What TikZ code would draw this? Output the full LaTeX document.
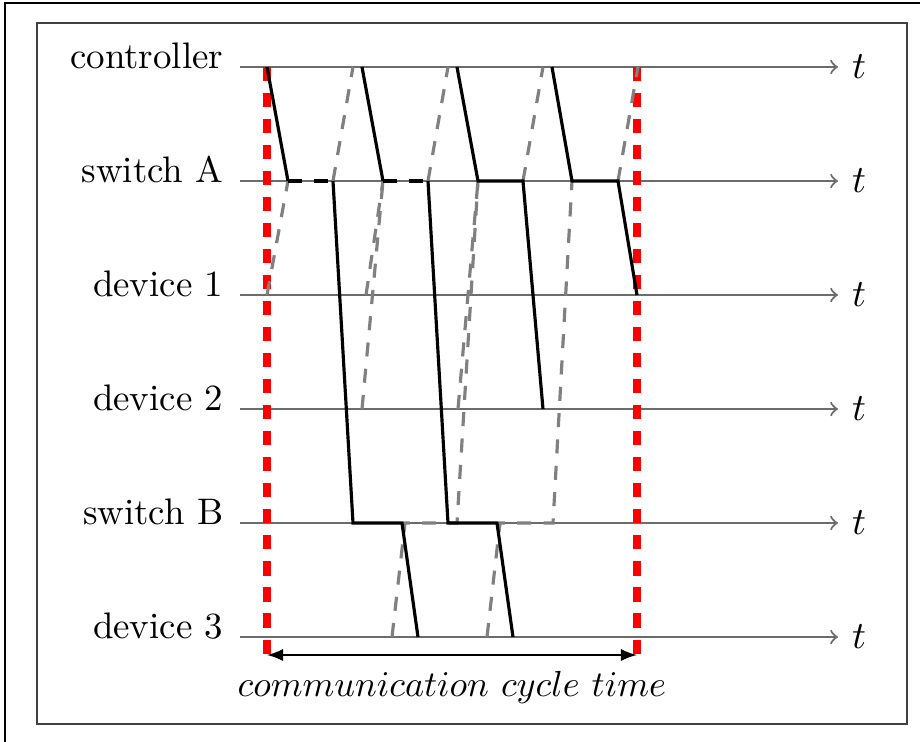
\documentclass[tikz,border=0pt]{standalone}
\usetikzlibrary{positioning}
\usetikzlibrary{arrows}
\usepackage{amssymb}
\usepackage{xcolor}

\begin{document}
\begin{tikzpicture}[x=0.01cm, y=-0.01cm,
  tline/.style={gray!85!black, line width=0.6pt},
  down/.style={black, line width=0.9pt},
  wait/.style={black, line width=0.9pt, dash pattern=on 4pt off 3.5pt},
  up/.style={gray, line width=0.9pt, dash pattern=on 4pt off 3.5pt},
  cyc/.style={red, line width=2.3pt, dash pattern=on 4pt off 3.4pt}]

\useasboundingbox (0,0) rectangle (920,742);

% frames
\draw[black, thin] (5,742)--(5,3)--(920,3);
\draw[black!75, line width=0.8pt] (37,23) rectangle (907,724);

% time lines
\foreach \y/\name/\txt in {67/ctrl/controller, 181/swA/switch A, 295/devA/device 1,
  409/devB/device 2, 523/swB/switch B, 637/devC/device 3}{
  \node[anchor=base east, inner sep=0pt, scale=1.05] (\name) at (224,{\y+1}) {\txt};
  \coordinate (\name-s) at (240,\y);
  \coordinate (\name-e) at (838,\y);
  \draw[tline, ->] (\name-s) -- (\name-e) node[right, text=black, scale=1.1] (t-\name) {$t$};
}

% cycle borders
\coordinate (cyc-lt) at (267,67);
\coordinate (cyc-lb) at (267,662);
\coordinate (cyc-rt) at (637,67);
\coordinate (cyc-rb) at (637,662);
\draw[cyc] (cyc-lt)--(cyc-lb);
\draw[cyc] (cyc-rt)--(cyc-rb);

% upstream
\draw[up] (267,295)--(288,181);
\draw[up] (333,181)--(353,67);
\draw[up] (362,409)--(383,181);
\draw[up] (366,295)--(383,181);
\draw[up] (428,181)--(448,67);
\draw[up] (392,637)--(405,523)--(457,523)--(478,181);
\draw[up] (458,409)--(478,181);
\draw[up] (523,181)--(543,67);
\draw[up] (487,637)--(500,523)--(553,523)--(572,181);
\draw[up] (618,181)--(638,67);

% downstream
\draw[down] (267,67)--(288,181);
\draw[wait] (288,181)--(333,181);
\draw[down] (333,181)--(353,523)--(402,523)--(418,637);
\draw[down] (362,67)--(383,181);
\draw[wait] (383,181)--(428,181);
\draw[down] (428,181)--(448,523)--(497,523)--(513,637);
\draw[down] (457,67)--(478,181)--(523,181)--(543,409);
\draw[down] (552,67)--(572,181)--(618,181)--(637,295);

% cycle time
\coordinate (cyc-l) at (267,655);
\coordinate (cyc-r) at (637,655);
\draw[black, line width=0.6pt, latex-latex] (cyc-l)--(cyc-r);
\node[below=1pt of cyc-l, anchor=north, xshift=185*0.01cm, scale=1.03] (cyc-txt) {$communication\ cycle\ time$};

\end{tikzpicture}
\end{document}
